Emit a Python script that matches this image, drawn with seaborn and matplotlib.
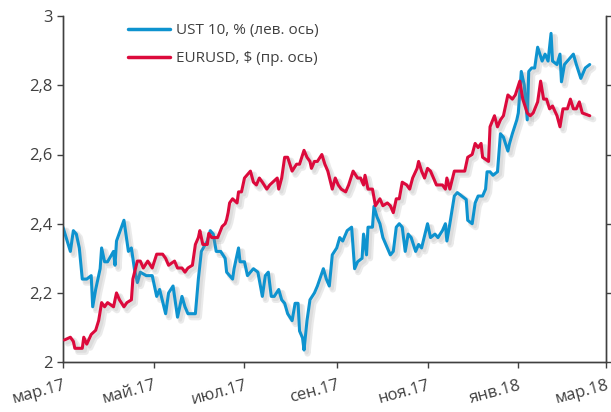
import pandas as pd
import matplotlib
matplotlib.use("Agg")
import matplotlib.pyplot as plt
import matplotlib.patheffects as pe
from matplotlib.ticker import FuncFormatter
from matplotlib.lines import Line2D
import seaborn as sns

# --- data: days since 2017-03-01 and values ---
start = "2017-03-01"

ust_day = [0, 5, 7, 9, 11, 13, 16, 19, 20, 22, 25, 26, 28, 30, 34, 35, 36, 41, 44, 46,
           48, 50, 52, 56, 60, 63, 65, 69, 71, 74, 77, 80, 82, 84, 89, 91, 93, 97, 99, 101,
           103, 106, 109, 110, 114, 115, 118, 119, 122, 124, 128, 131, 134, 136, 138, 140, 142, 145, 147, 149,
           151, 154, 156, 158, 159, 161, 162, 164, 166, 169, 171, 175, 177, 179, 181, 184, 186, 188, 191, 194,
           196, 198, 201, 202, 204, 205, 208, 209, 211, 213, 215, 218, 220, 222, 224, 226, 228, 230, 232, 234,
           237, 239, 241, 245, 247, 250, 252, 255, 257, 258, 260, 263, 265, 268, 271, 272, 275, 277, 279, 282,
           284, 285, 287, 289, 292, 294, 296, 299, 300, 302, 305, 306, 308, 310, 312, 313, 315, 317, 319, 322,
           324, 326, 328, 329, 332, 334, 335, 337, 339, 343, 345, 348, 351, 354]
ust_val = [2.39, 2.32, 2.38, 2.37, 2.33, 2.24, 2.24, 2.25, 2.16, 2.21, 2.27, 2.33, 2.29, 2.29, 2.32, 2.28, 2.35, 2.41, 2.32, 2.33,
           2.27, 2.23, 2.26, 2.25, 2.25, 2.19, 2.21, 2.14, 2.20, 2.22, 2.13, 2.19, 2.16, 2.14, 2.14, 2.24, 2.32, 2.35, 2.38, 2.37,
           2.32, 2.32, 2.30, 2.26, 2.24, 2.27, 2.33, 2.29, 2.29, 2.25, 2.27, 2.26, 2.19, 2.25, 2.26, 2.19, 2.19, 2.21, 2.18, 2.17,
           2.14, 2.12, 2.17, 2.17, 2.09, 2.07, 2.035, 2.12, 2.18, 2.20, 2.22, 2.27, 2.24, 2.22, 2.31, 2.33, 2.36, 2.35, 2.38, 2.39,
           2.27, 2.29, 2.30, 2.37, 2.31, 2.39, 2.39, 2.45, 2.42, 2.40, 2.36, 2.33, 2.31, 2.32, 2.39, 2.40, 2.39, 2.32, 2.37, 2.36,
           2.32, 2.34, 2.33, 2.40, 2.36, 2.37, 2.36, 2.38, 2.40, 2.35, 2.40, 2.48, 2.49, 2.48, 2.47, 2.41, 2.40, 2.46, 2.48, 2.48,
           2.50, 2.55, 2.55, 2.54, 2.55, 2.66, 2.65, 2.61, 2.63, 2.66, 2.70, 2.72, 2.84, 2.80, 2.70, 2.84, 2.85, 2.85, 2.91, 2.87,
           2.89, 2.87, 2.95, 2.87, 2.86, 2.89, 2.81, 2.86, 2.87, 2.89, 2.86, 2.82, 2.85, 2.86]

eur_day = [1, 5, 7, 8, 10, 13, 14, 16, 19, 22, 24, 26, 28, 30, 34, 36, 38, 41, 43, 46,
           47, 50, 52, 54, 57, 60, 63, 67, 69, 71, 75, 77, 80, 82, 84, 87, 89, 91, 92, 94,
           97, 98, 100, 102, 104, 107, 109, 110, 111, 112, 114, 117, 118, 120, 122, 126, 128, 130, 132, 134,
           137, 139, 141, 144, 145, 147, 149, 151, 154, 157, 159, 162, 164, 166, 167, 169, 171, 174, 176, 178,
           181, 183, 185, 187, 190, 192, 195, 198, 200, 202, 203, 205, 208, 210, 213, 215, 218, 220, 222, 224,
           226, 228, 231, 233, 235, 238, 239, 241, 243, 245, 247, 249, 251, 255, 257, 258, 260, 263, 267, 270,
           272, 275, 277, 279, 281, 282, 286, 287, 290, 292, 294, 296, 299, 302, 304, 307, 309, 312, 314, 316,
           319, 321, 323, 325, 327, 329, 332, 334, 336, 339, 341, 343, 345, 347, 349, 354]
eur_val = [1.066, 1.068, 1.065, 1.060, 1.060, 1.060, 1.068, 1.063, 1.070, 1.073, 1.080, 1.093, 1.090, 1.093, 1.090, 1.100, 1.095, 1.090, 1.093, 1.095,
           1.110, 1.123, 1.123, 1.118, 1.123, 1.118, 1.128, 1.128, 1.125, 1.120, 1.123, 1.118, 1.118, 1.115, 1.118, 1.120, 1.135, 1.140, 1.145, 1.135,
           1.135, 1.143, 1.140, 1.140, 1.140, 1.148, 1.150, 1.153, 1.158, 1.165, 1.168, 1.165, 1.173, 1.173, 1.183, 1.188, 1.180, 1.178, 1.183, 1.180,
           1.175, 1.178, 1.180, 1.183, 1.175, 1.183, 1.198, 1.198, 1.188, 1.193, 1.193, 1.203, 1.198, 1.195, 1.190, 1.195, 1.195, 1.200, 1.193, 1.188,
           1.175, 1.183, 1.178, 1.175, 1.173, 1.178, 1.188, 1.183, 1.183, 1.178, 1.185, 1.175, 1.175, 1.163, 1.168, 1.163, 1.165, 1.163, 1.158, 1.168,
           1.168, 1.180, 1.178, 1.175, 1.183, 1.190, 1.195, 1.188, 1.183, 1.190, 1.188, 1.183, 1.178, 1.178, 1.175, 1.183, 1.175, 1.188, 1.188, 1.188,
           1.198, 1.200, 1.208, 1.205, 1.208, 1.198, 1.195, 1.220, 1.228, 1.220, 1.225, 1.228, 1.243, 1.240, 1.243, 1.253, 1.240, 1.230, 1.228, 1.230,
           1.238, 1.253, 1.240, 1.240, 1.233, 1.235, 1.228, 1.220, 1.233, 1.233, 1.240, 1.233, 1.233, 1.238, 1.230, 1.228]

tick_dates = ["2017-03-01", "2017-05-01", "2017-07-01", "2017-09-01",
              "2017-11-01", "2018-01-01", "2018-03-01"]
tick_labels = ["мар.17", "май.17", "июл.17", "сен.17", "ноя.17", "янв.18", "мар.18"]

ust = pd.DataFrame({"date": pd.Timestamp(start) + pd.to_timedelta(ust_day, unit="D"), "value": ust_val})
eur = pd.DataFrame({"date": pd.Timestamp(start) + pd.to_timedelta(eur_day, unit="D"), "value": eur_val})

sns.set_style("ticks")
plt.rcParams["font.family"] = ["Open Sans", "DejaVu Sans"]

blue = "#0E93CF"
red = "#DC0A3C"
grey = "#404040"

fig = plt.figure(figsize=(6.11, 4.12), dpi=100)
ax = fig.add_axes([0.103, 0.121, 0.889, 0.840])
ax2 = ax.twinx()

# soft drop shadow like the Excel original
shadow = [pe.SimpleLineShadow(offset=(2.5, -2.5), shadow_color="#909090", alpha=0.18, linewidth=4.5),
          pe.SimpleLineShadow(offset=(2, -2), shadow_color="#909090", alpha=0.15, linewidth=2.5),
          pe.Normal()]

sns.lineplot(data=ust, x="date", y="value", ax=ax, color=blue, linewidth=2.2, zorder=3)
sns.lineplot(data=eur, x="date", y="value", ax=ax2, color=red, linewidth=2.2, zorder=3)
for line in ax.lines + ax2.lines:
    line.set_path_effects(shadow)

ax.set_ylim(2, 3)
ax.set_yticks([2, 2.2, 2.4, 2.6, 2.8, 3])
ax.yaxis.set_major_formatter(FuncFormatter(lambda v, p: f"{v:g}".replace(".", ",")))
ax2.set_ylim(1.05, 1.30)
ax2.set_yticks([1.05, 1.10, 1.15, 1.20, 1.25, 1.30])
ax2.tick_params(axis="y", labelright=False, length=4, color=grey, width=1)

ax.set_xlim(pd.Timestamp(tick_dates[0]), pd.Timestamp(tick_dates[-1]))
ax.set_xticks(pd.to_datetime(tick_dates))
ax.set_xticklabels(tick_labels, rotation=15, ha="right", rotation_mode="anchor")

ax.set_xlabel("")
ax.set_ylabel("")
ax2.set_ylabel("")

for a in (ax, ax2):
    a.spines["top"].set_visible(False)
    for s in ("left", "right", "bottom"):
        a.spines[s].set_color(grey)
        a.spines[s].set_linewidth(1.0)
ax.tick_params(axis="both", labelsize=12, colors=grey, length=4, width=1)
ax.tick_params(axis="x", pad=7)

handles = [Line2D([], [], color=blue, linewidth=2.5), Line2D([], [], color=red, linewidth=2.5)]
ax.legend(handles, ["UST 10, % (лев. ось)", "EURUSD, $ (пр. ось)"],
          loc="upper left", bbox_to_anchor=(0.095, 1.02), frameon=False,
          fontsize=11, handlelength=2.7, labelspacing=0.85, handletextpad=0.4,
          labelcolor=grey)

fig.savefig("out.png", dpi=100)
